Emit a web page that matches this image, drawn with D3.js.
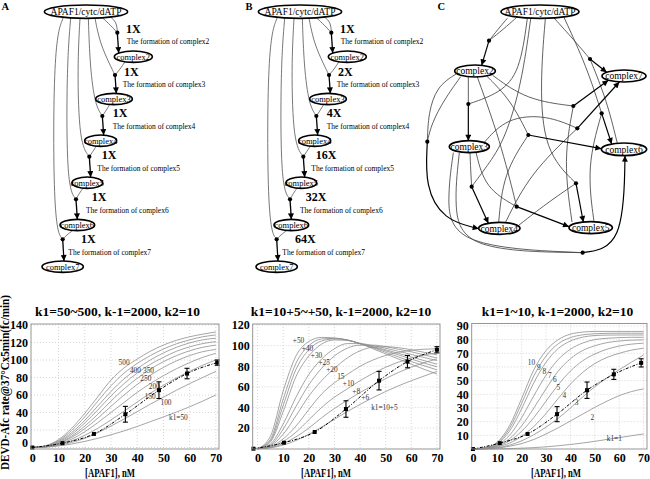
<!DOCTYPE html>
<html>
<head>
<meta charset="utf-8">
<script src="https://cdn.jsdelivr.net/npm/d3@7/dist/d3.min.js"></script>
<style>
body{margin:0;background:#fff;}
svg{display:block;}
text{font-family:"Liberation Serif","Times New Roman",serif;}
</style>
</head>
<body>
<svg id="fig" width="650" height="479"></svg>
<script>
// ================= DATA =================
const apaf = [0,5,10,15,20,25,30,35,40,45,50,55,60,65,70];   // [APAF1], nM grid of simulated curves
const xTicks = [0,10,20,30,40,50,60,70];

// ---- chart 1 : k1 = 50 ~ 500 ----
const c1Title = "k1=50~500, k-1=2000, k2=10";
const c1YTicks = [0,20,40,60,80,100,120,140];
const c1_k50  = [0,0.5,1.8,4,7,10.5,14.5,19,24,29.5,35,40.5,46.5,53,60];
const c1_k100 = [0,0.6,2.5,5.8,10.5,17,24.5,32.5,41,49.5,57.5,65.5,73,80,87];
const c1_k150 = [0,0.8,3.2,7.5,14,22,31.5,41.5,52,62,71,79.5,87,94,100];
const c1_k200 = [0,1,4,9.5,18,28.5,40,51.5,63,73,82,90,97,103,107.6];
const c1_k250 = [0,1.1,4.8,11.5,21.5,33.5,47,60,72,82.5,91.5,99,105,109.5,112];
const c1_k300 = [0,1.2,5.5,13,24.5,38,53,67,79,89.5,98,105,110.5,114.5,117];
const c1_k350 = [0,1.4,6.3,15,28,43,59,73,85,95,103,110,115,118.7,121];
const c1_k400 = [0,1.6,7.1,17,31,47.5,64,78.5,90,100,108,114.5,119.5,123,124.8];
const c1_k450 = [0,1.8,8,19.5,35,53,70.5,85,96,105,112.5,118.5,123,126.5,128.6];
const c1_k500 = [0,2,9,22,39,58,77,91,101,110,117,122.5,126.5,129.5,132];
const c1Labels = ["500","400","350","250","200","150","100","k1=50"];
const c1LabelX = [35,39.3,44.3,43.3,46.5,45,51,55.7];
const c1LabelY = [97.5,88.5,88.5,78.5,69.5,58.5,51,34.5];
const c1DataX = [0,11.5,23.5,35.5,48.3,59,70.5];
const c1DataY = [0,5,15.5,38,65.5,84.5,97];
const c1Err   = [0,0,0,9,9.5,6,3];

// ---- chart 2 : k1 = 10+5 ~ +50 ----
const c2Title = "k1=10+5~+50, k-1=2000, k2=10";
const c2YTicks = [20,40,60,80,100,120];
const c2_p5  = [0,0.8,3.5,8,14,21,28.5,36,43,49.5,55.5,61,66,70.5,75];
const c2_p6  = [0,1.1,5,11.5,20,30,39,47,54.5,61.5,68,74,79,83.5,87];
const c2_p8  = [0,1.5,7,16,28,40,50,58,66,73,79,84,88,91,93];
const c2_p10 = [0,2,9.5,22,38,53,64,72,80,86,90.5,93.5,95.5,96.5,97];
const c2_p15 = [0,2.8,14,32,51,66,78,88,95,98.5,99,98,96,93.5,91];
const c2_p20 = [0,3.5,19,41,62,78,90,97.5,100.5,100.5,99,96.5,94,91,88];
const c2_p25 = [0,4.5,24,50,72,87,97,102,102,100,97.5,94.5,91.5,88.5,85.5];
const c2_p30 = [0,6.5,36,70,90,101.5,105.5,105,102,99,96,92.5,89,85.5,82];
const c2_p35 = [0,7.5,42,77,96,104.5,106.5,105.5,102,98.5,95,91,87,83,79.5];
const c2_p40 = [0,9,48,83,100,106.5,107,105.5,102,98,93.5,89,84.5,80.5,76.5];
const c2_p50 = [0,12,56,90,104,108,107.5,105.5,102,97,92,87,82,77,72.5];
const c2Labels = ["+50","+40","+30","+25","+20","15","+10","+8","+6","k1=10+5"];
const c2LabelX = [16,19.5,23,26,29,32.5,35.5,38.5,42,49.5];
const c2LabelY = [105,97.5,90.5,83.5,76.5,70,63,55.5,49.5,40];
const c2DataX = [-1.6,10.3,22.3,34.5,47.4,58.5,70];
const c2DataY = [0,5.8,16.2,38.5,66,84.5,96];
const c2Err   = [0,0,0,8,9,6,3];

// ---- chart 3 : k1 = 1 ~ 10 ----
const c3Title = "k1=1~10, k-1=2000, k2=10";
const c3YTicks = [10,20,30,40,50,60,70,80,90];
const c3_k1  = [0,0,0.1,0.3,0.6,1,1.6,2.4,3.3,4.4,5.6,7,8.3,9.7,11];
const c3_k2  = [0,0.2,0.7,2,4,7,11,15.5,20.5,25.5,30.5,35,39,42,44];
const c3_k3  = [0,0.2,1,2.8,6,10.5,16,22.5,30,38,45.5,52,58,63.5,68.8];
const c3_k4  = [0,0.3,1.5,4.3,9.3,16.5,26,37,47.5,56,62.5,67,70,72.3,73.7];
const c3_k5  = [0,0.4,2,6,13,23,35,47,57,64.5,69.5,73,75.3,76.7,77.4];
const c3_k6  = [0,0.5,2.5,7.5,17,30,44,57,66,72,75.5,77.8,79,79.6,79.8];
const c3_k7  = [0,0.6,3,10,23,39,54,65.5,73,77.5,80,81,81.5,81.7,81.7];
const c3_k8  = [0,0.8,3.8,13,29.5,48.5,63.5,73.5,79,81.8,83,83.3,83.4,83.4,83.4];
const c3_k9  = [0,0.9,4.4,15,33.5,53.5,68,77,81.5,83.5,84.3,84.6,84.7,84.7,84.7];
const c3_k10 = [0,1,5,17,37,58,72,80,84,85.5,86,86,86,86,86];
const c3Labels = ["10","9","8","7","6","5","4","3","2","k1=1"];
const c3LabelX = [24,27,29.3,31.5,33.6,35,37.5,42.5,49,58];
const c3LabelY = [63,60,57,54,51,45,39.5,34,23.3,7.5];
const c3DataX = [0,11,22.4,34.5,46.8,57.8,69];
const c3DataY = [0,4.3,11,25.5,43,54.6,63];
const c3Err   = [0,0,0,5.5,6,3.7,3];

// ---- diagrams ----
const multA = ["1X","1X","1X","1X","1X","1X"];
const multB = ["1X","2X","4X","16X","32X","64X"];
const complexNames = ["APAF1/cytc/dATP","complex2","complex3","complex4","complex5","complex6","complex7"];

// ================= DRAWING =================
const svg = d3.select("#fig");
const defs = svg.append("defs");
defs.append("marker").attr("id","ah").attr("viewBox","0 0 10 10").attr("refX",10).attr("refY",5)
  .attr("markerWidth",7).attr("markerHeight",6).attr("markerUnits","userSpaceOnUse").attr("orient","auto")
  .append("path").attr("d","M0,0L10,5L0,10z").attr("fill","#000");

function drawChart(o){
  const x = d3.scaleLinear().domain(o.xd).range([o.l,o.r]);
  const y = d3.scaleLinear().domain(o.yd).range([o.b,o.t]);
  const g = svg.append("g");
  const grid = s=>s.attr("stroke","#c4c4c4").attr("stroke-width",0.7).attr("stroke-dasharray","1,2");
  g.append("g").selectAll("line").data(xTicks.filter(d=>d>o.xd[0]+0.6&&d<o.xd[1]-0.6)).join("line")
    .attr("x1",d=>x(d)).attr("x2",d=>x(d)).attr("y1",o.t).attr("y2",o.b).call(grid);
  g.append("g").selectAll("line").data(o.yTicks.filter(d=>d>o.yd[0]+0.6)).join("line")
    .attr("x1",o.l).attr("x2",o.r).attr("y1",d=>y(d)).attr("y2",d=>y(d)).call(grid);
  const line = d3.line().x((d,i)=>x(apaf[i])).y(d=>y(d)).curve(d3.curveMonotoneX);
  g.append("g").selectAll("path").data(o.curves).join("path").attr("d",line)
    .attr("fill","none").attr("stroke","#8e8e8e").attr("stroke-width",0.8);
  g.append("g").selectAll("text").data(o.labels).join("text")
    .attr("x",(d,i)=>x(o.labelX[i])).attr("y",(d,i)=>y(o.labelY[i])).attr("dy","0.35em")
    .attr("text-anchor","middle").attr("font-size",7.3).attr("fill","#333").text(d=>d);
  const pts = o.dx.map((v,i)=>[v,o.dy[i],o.de[i]]);
  g.append("path").datum(pts)
    .attr("d",d3.line().x(d=>x(d[0])).y(d=>y(d[1])).curve(d3.curveMonotoneX))
    .attr("fill","none").attr("stroke","#000").attr("stroke-width",1).attr("stroke-dasharray","3,1.5,1,1.5");
  const eb = g.append("g").selectAll("g").data(pts.filter(d=>d[2]>0)).join("g")
    .attr("stroke","#000").attr("stroke-width",1.1);
  eb.append("line").attr("x1",d=>x(d[0])).attr("x2",d=>x(d[0])).attr("y1",d=>y(d[1]-d[2])).attr("y2",d=>y(d[1]+d[2]));
  eb.append("line").attr("x1",d=>x(d[0])-2.5).attr("x2",d=>x(d[0])+2.5).attr("y1",d=>y(d[1]-d[2])).attr("y2",d=>y(d[1]-d[2]));
  eb.append("line").attr("x1",d=>x(d[0])-2.5).attr("x2",d=>x(d[0])+2.5).attr("y1",d=>y(d[1]+d[2])).attr("y2",d=>y(d[1]+d[2]));
  g.append("g").selectAll("rect").data(pts).join("rect")
    .attr("x",d=>x(d[0])-2).attr("y",d=>y(d[1])-2).attr("width",4).attr("height",4).attr("fill","#000");
  g.append("rect").attr("x",o.l).attr("y",o.t).attr("width",o.r-o.l).attr("height",o.b-o.t)
    .attr("fill","none").attr("stroke","#8a8a8a").attr("stroke-width",0.9);
  const ax = g.append("g").attr("transform",`translate(0,${o.b})`)
    .call(d3.axisBottom(x).tickValues(xTicks).tickSize(0).tickPadding(4));
  ax.select(".domain").remove();
  ax.attr("font-size",12).attr("font-weight","bold");
  ax.selectAll("text").attr("fill","#000");
  const ay = g.append("g").attr("transform",`translate(${o.l},0)`)
    .call(d3.axisLeft(y).tickValues(o.yTicks).tickSize(0).tickPadding(3));
  ay.select(".domain").remove();
  ay.attr("font-size",12).attr("font-weight","bold");
  ay.selectAll("text").attr("fill","#000").attr("dy",d=>d===0?"-0.05em":"0.32em");
  g.append("text").attr("x",o.titleX).attr("y",316).attr("text-anchor","middle")
    .attr("font-size",13.5).attr("font-weight","bold").text(o.title);
  g.append("text").attr("x",o.xlabX).attr("y",476.5).attr("text-anchor","middle")
    .attr("font-size",12.5).attr("font-weight","bold")
    .attr("textLength",50).attr("lengthAdjust","spacingAndGlyphs").text("[APAF1], nM");
}

drawChart({xd:[-0.5,71.2], yd:[-1.7,141.1], l:31, r:219, t:324, b:449,
  curves:[c1_k50,c1_k100,c1_k150,c1_k200,c1_k250,c1_k300,c1_k350,c1_k400,c1_k450,c1_k500],
  labels:c1Labels, labelX:c1LabelX, labelY:c1LabelY, yTicks:c1YTicks,
  dx:c1DataX, dy:c1DataY, de:c1Err, title:c1Title, titleX:117.5, xlabX:110});
drawChart({xd:[-1.9,71.2], yd:[-0.3,121], l:252.7, r:440, t:324, b:449,
  curves:[c2_p5,c2_p6,c2_p8,c2_p10,c2_p15,c2_p20,c2_p25,c2_p30,c2_p35,c2_p40,c2_p50],
  labels:c2Labels, labelX:c2LabelX, labelY:c2LabelY, yTicks:c2YTicks,
  dx:c2DataX, dy:c2DataY, de:c2Err, title:c2Title, titleX:341, xlabX:326});
drawChart({xd:[-0.5,71.4], yd:[0,91.8], l:471.7, r:647, t:323.5, b:449,
  curves:[c3_k1,c3_k2,c3_k3,c3_k4,c3_k5,c3_k6,c3_k7,c3_k8,c3_k9,c3_k10],
  labels:c3Labels, labelX:c3LabelX, labelY:c3LabelY, yTicks:c3YTicks,
  dx:c3DataX, dy:c3DataY, de:c3Err, title:c3Title, titleX:557.5, xlabX:556});

// y-axis title of the first chart
svg.append("text").attr("transform","translate(9,382.5) rotate(-90)").attr("text-anchor","middle")
  .attr("font-size",11.5).attr("font-weight","bold").attr("textLength",175).attr("lengthAdjust","spacingAndGlyphs")
  .text("DEVD-Afc rate@37°Cx5min(fc/min)");

// ---------- diagrams (layout in a 3x-scaled drawing unit, mapped by scales) ----------
const syD = d3.scaleLinear().domain([0,840]).range([0,280]);

const chainLayout = {
  nodes:[[258,35,125,20],[400,170,57,17],[342,297,55,17],[302,422,48,17],[262,548,46,17],[232,675,52,17],[188,800,62,17]],
  dots:[[352,98],[345,225],[307,348],[268,470],[228,598],[188,718]],
  edges:[
    [[308,54],[332,76],[352,98]], [[330,50],[350,66],[352,98]],
    [[285,55],[300,130],[330,195],[345,225]], [[375,185],[360,208],[345,225]],
    [[265,55],[270,200],[285,315],[307,348]], [[330,312],[318,332],[307,348]],
    [[240,55],[232,200],[238,430],[268,470]], [[290,437],[278,455],[268,470]],
    [[212,55],[200,200],[200,560],[228,598]], [[250,563],[238,580],[228,598]],
    [[190,52],[160,130],[160,680],[188,718]], [[220,690],[200,705],[188,718]]
  ],
  mult:[[378,100],[372,228],[338,352],[305,478],[275,604],[243,728]],
  form:[[380,132],[368,262],[338,388],[292,512],[258,640],[205,765]]
};

function drawChain(sx, mult, letter, letterX){
  const g = svg.append("g");
  const L = chainLayout;
  const k = sx(1)-sx(0);
  const pl = d3.line().x(p=>sx(p[0])).y(p=>syD(p[1])).curve(d3.curveBasis);
  g.append("g").selectAll("path").data(L.edges).join("path").attr("d",pl)
    .attr("fill","none").attr("stroke","#555").attr("stroke-width",0.8);
  const arrows = L.dots.map((d,i)=>{
    const n = L.nodes[i+1];
    const tx = d[0]+4;
    const ty = n[1]-n[3]*Math.sqrt(Math.max(0,1-Math.pow((tx-n[0])/n[2],2)));
    return [d,[tx,ty]];
  });
  g.append("g").selectAll("path").data(arrows).join("path").attr("d",pl)
    .attr("fill","none").attr("stroke","#000").attr("stroke-width",1.3).attr("marker-end","url(#ah)");
  const nd = g.append("g").selectAll("g").data(L.nodes).join("g");
  nd.append("ellipse").attr("cx",d=>sx(d[0])).attr("cy",d=>syD(d[1])).attr("rx",d=>d[2]*k).attr("ry",d=>d[3]*k)
    .attr("fill","#fff").attr("stroke","#000").attr("stroke-width",1.6);
  nd.append("text").attr("x",d=>sx(d[0])).attr("y",d=>syD(d[1])).attr("dy","0.35em").attr("text-anchor","middle")
    .attr("font-size",(d,i)=>i===0?9.5:8.5).text((d,i)=>complexNames[i]);
  g.append("g").selectAll("circle").data(L.dots).join("circle")
    .attr("cx",d=>sx(d[0])).attr("cy",d=>syD(d[1])).attr("r",2.1).attr("fill","#000");
  g.append("g").selectAll("text").data(L.mult).join("text")
    .attr("x",d=>sx(d[0])).attr("y",d=>syD(d[1])).attr("font-size",12).attr("font-weight","bold").text((d,i)=>mult[i]);
  g.append("g").selectAll("text").data(L.form).join("text")
    .attr("x",d=>sx(d[0])).attr("y",d=>syD(d[1])).attr("font-size",7.5).text((d,i)=>"The formation of "+complexNames[i+1]);
  g.append("text").attr("x",letterX).attr("y",10).attr("font-size",10.5).attr("font-weight","bold").text(letter);
}
drawChain(d3.scaleLinear().domain([0,660]).range([0,220]), multA, "A", 1.5);
drawChain(d3.scaleLinear().domain([0,660]).range([214,434]), multB, "B", 245.5);

// ---------- panel C ----------
const netLayout = {
  nodes:[[360,35,117,20],[165,213,61,18],[148,440,60,18],[238,685,62,18],[512,683,65,18],[612,448,68,19],[612,228,66,18]],
  dots:[[207,122],[510,177],[145,312],[22,425],[155,560],[325,405],[290,620],[468,550],[472,385],[460,318],[545,340],[488,758]],
  edges:[
    [[290,52],[250,88],[207,122]], [[262,55],[232,90],[207,122]],
    [[145,231],[145,312]], [[322,55],[300,215],[240,280],[145,312]],
    [[108,222],[50,260],[25,340],[22,425]], [[122,230],[72,300],[35,370],[22,425]],
    [[150,458],[152,510],[155,560]], [[332,57],[305,250],[255,420],[200,500],[155,560]],
    [[200,228],[272,300],[325,405]], [[236,667],[250,520],[325,405]],
    [[172,231],[240,420],[290,620]], [[168,457],[195,565],[290,620]],
    [[376,56],[360,250],[372,455],[468,550]], [[296,676],[380,610],[468,550]],
    [[192,428],[260,352],[380,345],[472,385]], [[256,668],[330,520],[472,385]],
    [[218,226],[320,300],[460,318]], [[456,666],[430,480],[460,318]],
    [[402,54],[462,120],[510,177]], [[592,430],[560,300],[510,177]],
    [[432,52],[500,200],[545,340]], [[522,665],[500,500],[545,340]],
    [[100,458],[80,600],[100,740],[488,758]], [[118,458],[100,625],[135,752],[488,758]]
  ],
  arrows:[
    [[207,122],[185,196]], [[145,312],[145,422]], [[22,425],[15,560],[70,660],[176,686]],
    [[155,560],[205,670]], [[325,405],[544,446]], [[290,620],[447,680]], [[468,550],[490,666]],
    [[472,385],[598,246]], [[460,318],[565,241]], [[510,177],[560,217]], [[545,340],[575,432]],
    [[488,758],[610,740],[615,467]]
  ]
};
(function(){
  const sx = d3.scaleLinear().domain([0,690]).range([420,650]);
  const k = sx(1)-sx(0);
  const L = netLayout;
  const g = svg.append("g");
  const pl = d3.line().x(p=>sx(p[0])).y(p=>syD(p[1])).curve(d3.curveBasis);
  g.append("g").selectAll("path").data(L.edges).join("path").attr("d",pl)
    .attr("fill","none").attr("stroke","#444").attr("stroke-width",0.85);
  g.append("g").selectAll("path").data(L.arrows).join("path").attr("d",pl)
    .attr("fill","none").attr("stroke","#000").attr("stroke-width",1.2).attr("marker-end","url(#ah)");
  const nd = g.append("g").selectAll("g").data(L.nodes).join("g");
  nd.append("ellipse").attr("cx",d=>sx(d[0])).attr("cy",d=>syD(d[1])).attr("rx",d=>d[2]*k).attr("ry",d=>d[3]*k)
    .attr("fill","#fff").attr("stroke","#000").attr("stroke-width",1.7);
  nd.append("text").attr("x",d=>sx(d[0])).attr("y",d=>syD(d[1])).attr("dy","0.35em").attr("text-anchor","middle")
    .attr("font-size",9.5).text((d,i)=>complexNames[i]);
  g.append("g").selectAll("circle").data(L.dots).join("circle")
    .attr("cx",d=>sx(d[0])).attr("cy",d=>syD(d[1])).attr("r",2.1).attr("fill","#000");
  g.append("text").attr("x",437.5).attr("y",10).attr("font-size",10.5).attr("font-weight","bold").text("C");
})();
</script>
</body>
</html>
